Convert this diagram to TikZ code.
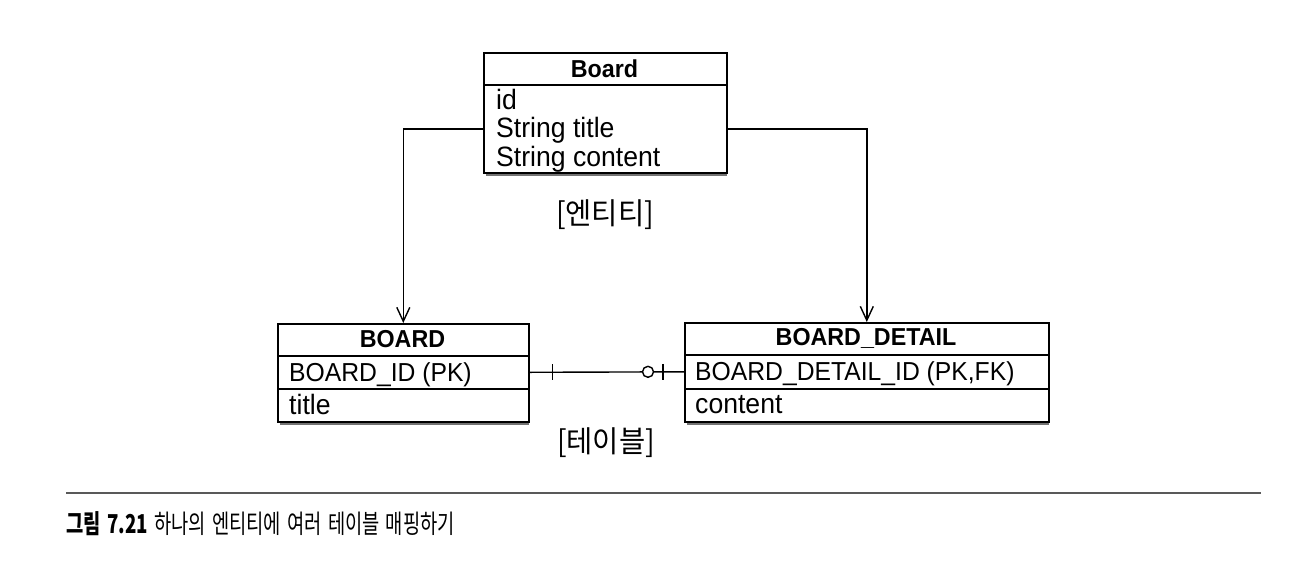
\documentclass[tikz,border=0pt]{standalone}
\usepackage{fontspec}
\setmainfont{Liberation Sans}
\newfontfamily\rowfont[FakeStretch=0.95]{Liberation Sans}
\newfontfamily\kofont[FakeStretch=0.95]{Noto Sans CJK KR}
\newfontfamily\capfont[FakeStretch=0.72,WordSpace=1.5]{Noto Sans CJK KR}
\usetikzlibrary{arrows.meta,calc}
\tikzset{
  box/.style={draw, line width=1.6pt, inner sep=0pt, anchor=north west},
  shade/.style={fill=black!55},
  hdr/.style={anchor=base, inner sep=0pt, font=\rowfont\bfseries\fontsize{24.5}{26}\selectfont},
  rowtxt/.style={anchor=base west, inner sep=0pt, font=\rowfont\fontsize{26}{28}\selectfont},
  rowtxtl/.style={anchor=base west, inner sep=0pt, font=\rowfont\fontsize{28}{28}\selectfont},
  kolab/.style={inner sep=0pt, font=\kofont\fontsize{30}{32}\selectfont},
  conn/.style={line width=1.4pt, -{Straight Barb[length=14pt,width=13pt,line width=1.4pt]}},
  rel/.style={line width=1.4pt},
  rulestyle/.style={line width=1.6pt, draw=black!65}
}
\begin{document}
\begin{tikzpicture}[x=1pt,y=-1pt]
\useasboundingbox (0,0) rectangle (1311,584);
% shadows
\fill[shade] (486,172) rectangle (727,176);
\fill[shade] (280,421) rectangle (529,425);
\fill[shade] (687,421) rectangle (1049,425);
% entity Board
\node[box, minimum width=243pt, minimum height=32pt, fill=white] (eh) at (483,52) {};
\node[box, minimum width=243pt, minimum height=88pt, fill=white] (eb) at (483,84) {};
\node[hdr] (eht) at (604.5,77) {Board};
\node[rowtxtl] (e1) at (496,109) {id};
\node[rowtxtl] (e2) at (496,137.5) {String title};
\node[rowtxtl] (e3) at (496,166) {String content};
% table BOARD
\node[box, minimum width=251pt, minimum height=32pt, fill=white] (bh) at (277,323) {};
\node[box, minimum width=251pt, minimum height=33pt, fill=white] (br1) at (277,355) {};
\node[box, minimum width=251pt, minimum height=33pt, fill=white] (br2) at (277,388) {};
\node[hdr] (bht) at (402.5,347) {BOARD};
\node[rowtxt] (b1) at (289,381) {BOARD\_ID (PK)};
\node[rowtxtl] (b2) at (289,414) {title};
% table BOARD_DETAIL
\node[box, minimum width=364pt, minimum height=32pt, fill=white] (dh) at (684,322) {};
\node[box, minimum width=364pt, minimum height=34pt, fill=white] (dr1) at (684,354) {};
\node[box, minimum width=364pt, minimum height=33pt, fill=white] (dr2) at (684,388) {};
\node[hdr] (dht) at (866,345) {BOARD\_DETAIL};
\node[rowtxt] (d1) at (695,380) {BOARD\_DETAIL\_ID (PK,FK)};
\node[rowtxtl] (d2) at (695,413) {content};
% labels
\node[kolab] (lab1) at (605,215) {[엔티티]};
\node[kolab] (lab2) at (606,443) {[테이블]};
% connectors
\draw[conn] (eb.west) -| (bh.north);
\draw[conn] (eb.east) -| (dh.north);
% relationship
\draw[rel] (br1.east) -- (dr1.west);
\draw[rel] ($(br1.east)+(23,-8)$) -- ($(br1.east)+(23,8)$);
\draw[rel] ($(dr1.west)+(-21,-8)$) -- ($(dr1.west)+(-21,8)$);
\draw[rel, fill=white] ($(dr1.west)+(-36,0)$) circle (5.5pt);
% rule and caption
\coordinate (r1) at (66,493);
\coordinate (r2) at (1261,493);
\draw[rulestyle] (r1) -- (r2);
\node[anchor=base west, inner sep=0pt, font=\capfont\fontsize{26}{28}\selectfont] (cap) at (66,533) {\textbf{그림 7.21} 하나의 엔티티에 여러 테이블 매핑하기};
\end{tikzpicture}
\end{document}
